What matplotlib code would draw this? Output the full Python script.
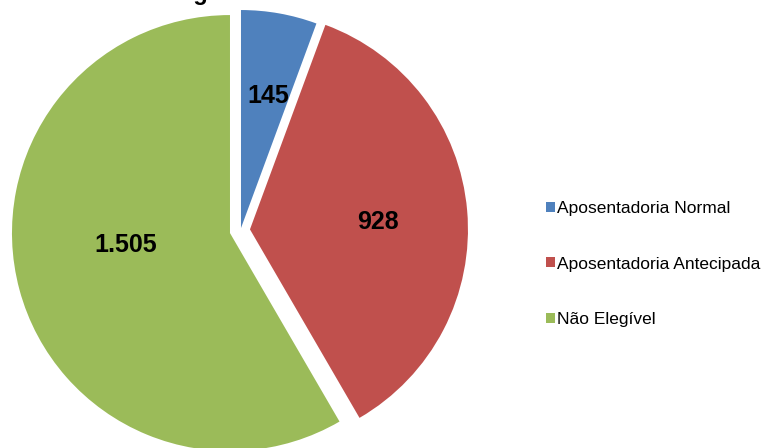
import matplotlib.pyplot as plt
import numpy as np
from matplotlib.patches import Patch

plt.rcParams['font.family'] = ['Liberation Sans', 'DejaVu Sans']

# data
categories = ['Aposentadoria Normal', 'Aposentadoria Antecipada', 'Não Elegível']
values = [145, 928, 1505]
colors = ['#4F81BD', '#C0504D', '#9BBB59']

W, H = 765, 448
fig = plt.figure(figsize=(W / 100, H / 100), dpi=100)
ax = fig.add_axes([0, 0, 1, 1])

# pie drawn in pixel units so the layout is easy to place
center = (240.6, H - 230.2)
radius = 218
explode = [2.2, 9.4, 11.0]

wedges, _ = ax.pie(values, colors=colors, startangle=90, counterclock=False,
                   radius=radius, center=center, explode=explode,
                   wedgeprops=dict(linewidth=0))

ax.set_xlim(0, W)
ax.set_ylim(0, H)
ax.set_aspect('equal')
ax.axis('off')

# value labels inside each wedge: (distance as fraction of radius, angle offset)
label_pos = [(0.62, -1.5), (0.59, -1.7), (0.48, -8.5)]


def fmt(v):
    return f'{v:,}'.replace(',', '.')


for w, v, (d, off) in zip(wedges, values, label_pos):
    ang = np.deg2rad((w.theta1 + w.theta2) / 2 + off)
    cx, cy = w.center
    ax.text(cx + d * radius * np.cos(ang), cy + d * radius * np.sin(ang), fmt(v),
            ha='center', va='center', fontsize=18, fontweight='bold', color='black')

# title sits mostly above the visible area
fig.text(158 / W, 1.0, 'Elegibilidade', ha='left', va='baseline',
         fontsize=17, fontweight='bold')

handles = [Patch(facecolor=c, edgecolor='none') for c in colors]
fig.legend(handles, categories, loc='center left', bbox_to_anchor=(546 / W, 1 - 264 / H),
           frameon=False, fontsize=12.5, handlelength=0.5, handleheight=0.5,
           handletextpad=0.12, labelspacing=2.33, borderpad=0, borderaxespad=0)

fig.savefig('out.png', dpi=100)
